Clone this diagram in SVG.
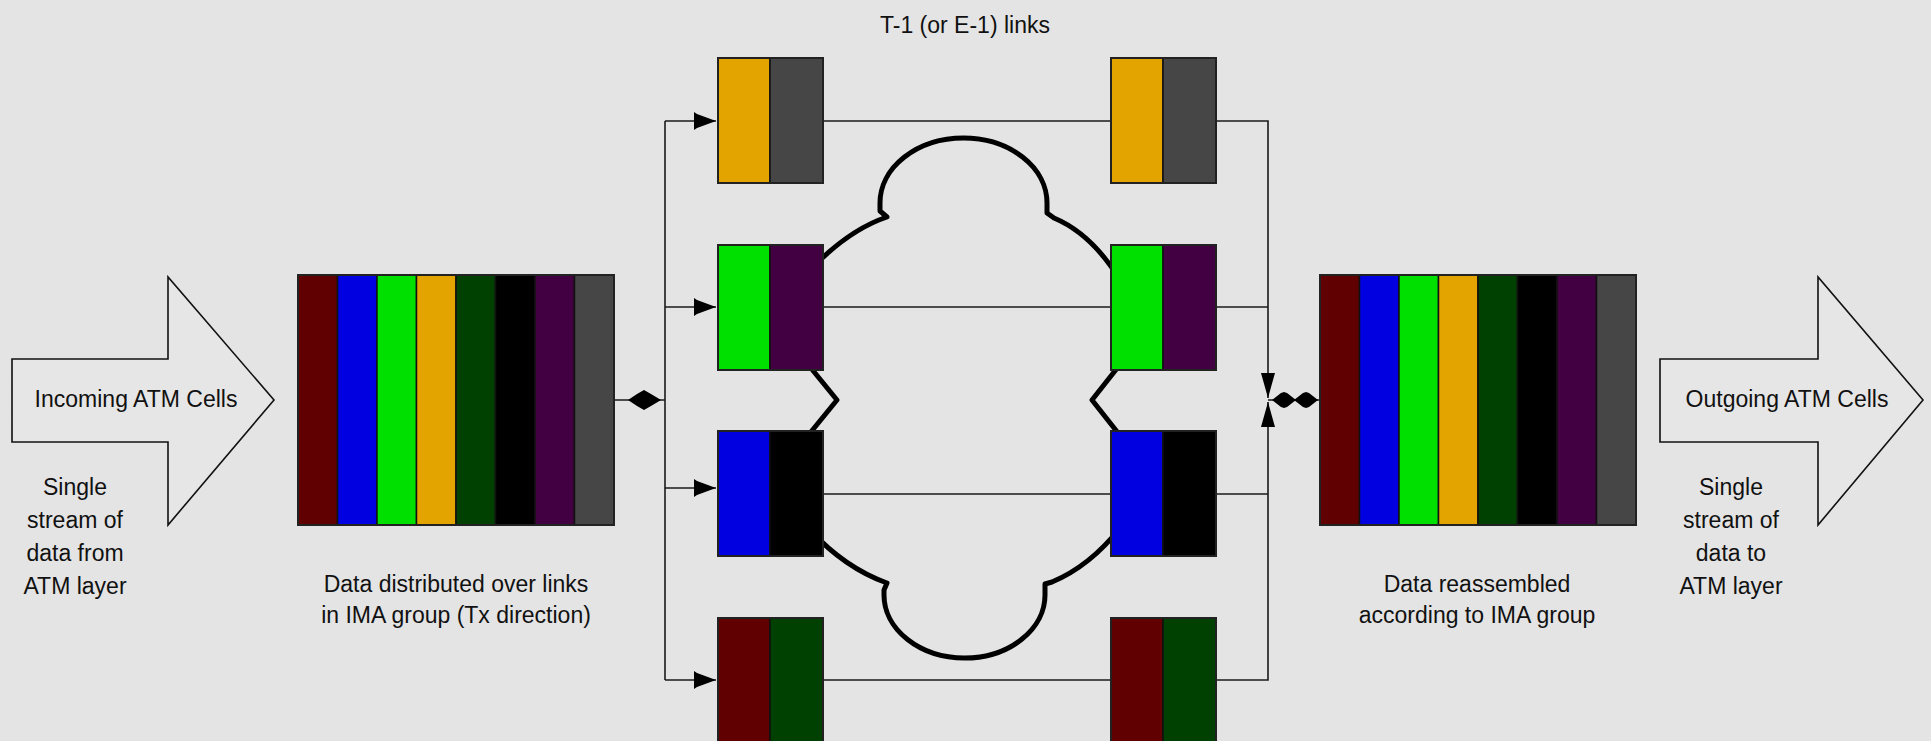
<svg xmlns="http://www.w3.org/2000/svg" width="1931" height="741" viewBox="0 0 1931 741">
  <defs>
    <style>
      .bg { fill: #e4e4e4; }
      .txt { font-family: "Liberation Sans", Arial, sans-serif; font-size: 23px; fill: #111; text-anchor: middle; }
      .wire { fill: none; stroke: #1a1a1a; stroke-width: 1.6; }
      .bigarrow { fill: #e6e6e6; stroke: #111; stroke-width: 1.6; }
      .cell { stroke: #111; stroke-width: 1.5; }
      .frame { fill: none; stroke: #222; stroke-width: 2; }
      .cloud { fill: none; stroke: #000; stroke-width: 5; stroke-linejoin: round; stroke-linecap: round; }
      .head { fill: #000; }
      .c1 { fill: #600000; }
      .c2 { fill: #0000e0; }
      .c3 { fill: #00e000; }
      .c4 { fill: #e3a400; }
      .c5 { fill: #004000; }
      .c6 { fill: #000000; }
      .c7 { fill: #420042; }
      .c8 { fill: #464646; }
    </style>
    <marker id="arrowH" markerUnits="userSpaceOnUse" markerWidth="22" markerHeight="18" refX="22" refY="9" orient="auto">
      <path d="M0,0 L3,2 L22,9 L3,16 L0,18 Z" fill="#000"/>
    </marker>
    <marker id="arrowV" markerUnits="userSpaceOnUse" markerWidth="25" markerHeight="14" refX="25" refY="7" orient="auto">
      <path d="M0,0 L25,7 L0,14 Z" fill="#000"/>
    </marker>
    <!-- eight-cell buffer -->
    <g id="stack8">
      <rect class="cell c1" x="0" y="0" width="39.5" height="250"/>
      <rect class="cell c2" x="39.5" y="0" width="39.5" height="250"/>
      <rect class="cell c3" x="79" y="0" width="39.5" height="250"/>
      <rect class="cell c4" x="118.5" y="0" width="39.5" height="250"/>
      <rect class="cell c5" x="158" y="0" width="39.5" height="250"/>
      <rect class="cell c6" x="197.5" y="0" width="39.5" height="250"/>
      <rect class="cell c7" x="237" y="0" width="39.5" height="250"/>
      <rect class="cell c8" x="276.5" y="0" width="39.5" height="250"/>
      <rect class="frame" x="0" y="0" width="316" height="250"/>
    </g>
  </defs>

  <rect class="bg" x="0" y="0" width="1931" height="741"/>

  <!-- title over the links -->
  <text class="txt" x="965" y="33">T-1 (or E-1) links</text>

  <!-- incoming arrow -->
  <g id="incoming">
    <path class="bigarrow" d="M12,359 L168,359 L168,277 L274,400 L168,525 L168,442 L12,442 Z"/>
    <text class="txt" x="136" y="407">Incoming ATM Cells</text>
    <text class="txt" x="75" y="495">Single</text>
    <text class="txt" x="75" y="528">stream of</text>
    <text class="txt" x="75" y="561">data from</text>
    <text class="txt" x="75" y="594">ATM layer</text>
  </g>

  <!-- outgoing arrow -->
  <g id="outgoing">
    <path class="bigarrow" d="M1660,359 L1818,359 L1818,277 L1923,400 L1818,525 L1818,442 L1660,442 Z"/>
    <text class="txt" x="1787" y="407">Outgoing ATM Cells</text>
    <text class="txt" x="1731" y="495">Single</text>
    <text class="txt" x="1731" y="528">stream of</text>
    <text class="txt" x="1731" y="561">data to</text>
    <text class="txt" x="1731" y="594">ATM layer</text>
  </g>

  <!-- connectors -->
  <g id="connectors">
    <!-- transmit side fan-out -->
    <line class="wire" x1="614" y1="400" x2="665" y2="400"/>
    <path class="head" d="M628,400 L637,394 L644,390 L651,394 L661,400 L651,406 L644,410 L637,406 Z"/>
    <line class="wire" x1="665" y1="121" x2="665" y2="680"/>
    <line class="wire" x1="665" y1="121" x2="716" y2="121" marker-end="url(#arrowH)"/>
    <line class="wire" x1="665" y1="307" x2="716" y2="307" marker-end="url(#arrowH)"/>
    <line class="wire" x1="665" y1="488" x2="716" y2="488" marker-end="url(#arrowH)"/>
    <line class="wire" x1="665" y1="680" x2="716" y2="680" marker-end="url(#arrowH)"/>
    <!-- links across the network -->
    <line class="wire" x1="823" y1="121" x2="1111" y2="121"/>
    <line class="wire" x1="823" y1="307" x2="1111" y2="307"/>
    <line class="wire" x1="823" y1="494" x2="1111" y2="494"/>
    <line class="wire" x1="823" y1="680" x2="1111" y2="680"/>
    <!-- receive side merge -->
    <polyline class="wire" points="1216,121 1268,121 1268,398" marker-end="url(#arrowV)"/>
    <line class="wire" x1="1216" y1="307" x2="1268" y2="307"/>
    <line class="wire" x1="1216" y1="494" x2="1268" y2="494"/>
    <polyline class="wire" points="1216,680 1268,680 1268,402" marker-end="url(#arrowV)"/>
    <line class="wire" x1="1268" y1="400" x2="1320" y2="400"/>
    <path class="head" d="M1272,400 L1281,393 L1284,392 L1287,393 L1296,400 L1287,407 L1284,408 L1281,407 Z"/>
    <path class="head" d="M1294,400 L1303,393 L1306,392 L1309,393 L1318,400 L1309,407 L1306,408 L1303,407 Z"/>
  </g>

  <!-- network cloud between the link ends -->
  <g id="cloud">
    <path class="cloud" d="M808,272 Q848,230 887,217 L880,211 L880,203
      A83.5,65 0 0 1 1047,203 L1047,213 L1054,218 Q1092,234 1120,280
      L1122,362 L1092,400 L1122,438 L1120,528
      Q1090,566 1052,582 L1045,584 L1045,595
      A80.5,63 0 0 1 884,595 L884,590 L887,583
      Q845,568 810,530 L806,438 L837,400 L806,362 Z"/>
  </g>

  <!-- cell buffer before distribution -->
  <g id="tx-buffer">
    <use href="#stack8" x="298" y="275"/>
    <text class="txt" x="456" y="592">Data distributed over links</text>
    <text class="txt" x="456" y="623">in IMA group (Tx direction)</text>
  </g>

  <!-- cell buffer after reassembly -->
  <g id="rx-buffer">
    <use href="#stack8" x="1320" y="275"/>
    <text class="txt" x="1477" y="592">Data reassembled</text>
    <text class="txt" x="1477" y="623">according to IMA group</text>
  </g>

  <!-- transmit link units -->
  <g id="tx-link1">
    <rect class="cell c4" x="718" y="58" width="52" height="125"/>
    <rect class="cell c8" x="770" y="58" width="53" height="125"/>
    <rect class="frame" x="718" y="58" width="105" height="125"/>
  </g>
  <g id="tx-link2">
    <rect class="cell c3" x="718" y="245" width="52" height="125"/>
    <rect class="cell c7" x="770" y="245" width="53" height="125"/>
    <rect class="frame" x="718" y="245" width="105" height="125"/>
  </g>
  <g id="tx-link3">
    <rect class="cell c2" x="718" y="431" width="52" height="125"/>
    <rect class="cell c6" x="770" y="431" width="53" height="125"/>
    <rect class="frame" x="718" y="431" width="105" height="125"/>
  </g>
  <g id="tx-link4">
    <rect class="cell c1" x="718" y="618" width="52" height="125"/>
    <rect class="cell c5" x="770" y="618" width="53" height="125"/>
    <rect class="frame" x="718" y="618" width="105" height="125"/>
  </g>

  <!-- receive link units -->
  <g id="rx-link1">
    <rect class="cell c4" x="1111" y="58" width="52" height="125"/>
    <rect class="cell c8" x="1163" y="58" width="53" height="125"/>
    <rect class="frame" x="1111" y="58" width="105" height="125"/>
  </g>
  <g id="rx-link2">
    <rect class="cell c3" x="1111" y="245" width="52" height="125"/>
    <rect class="cell c7" x="1163" y="245" width="53" height="125"/>
    <rect class="frame" x="1111" y="245" width="105" height="125"/>
  </g>
  <g id="rx-link3">
    <rect class="cell c2" x="1111" y="431" width="52" height="125"/>
    <rect class="cell c6" x="1163" y="431" width="53" height="125"/>
    <rect class="frame" x="1111" y="431" width="105" height="125"/>
  </g>
  <g id="rx-link4">
    <rect class="cell c1" x="1111" y="618" width="52" height="125"/>
    <rect class="cell c5" x="1163" y="618" width="53" height="125"/>
    <rect class="frame" x="1111" y="618" width="105" height="125"/>
  </g>
</svg>
